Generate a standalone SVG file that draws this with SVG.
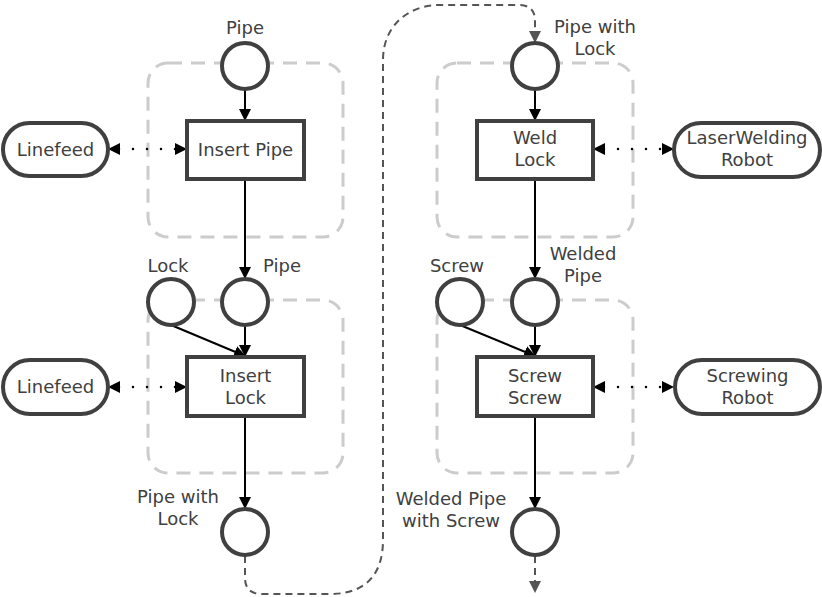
<svg xmlns="http://www.w3.org/2000/svg" width="822" height="597" viewBox="0 0 822 597">
<style>
text{font-family:"DejaVu Sans",Verdana,sans-serif;font-size:18px;fill:#404040;text-anchor:middle}
.grp{fill:none;stroke:#cccccc;stroke-width:3;stroke-dasharray:14 9}
.place{fill:#fff;stroke:#404040;stroke-width:4}
.trans{fill:#fff;stroke:#404040;stroke-width:4}
.res{fill:#fff;stroke:#404040;stroke-width:4}
.arc{fill:none;stroke:#000;stroke-width:2;marker-end:url(#ah)}
.dot{fill:none;stroke:#000;stroke-width:2.5;stroke-linecap:round;stroke-dasharray:0 14;stroke-dashoffset:-10;marker-start:url(#ahs);marker-end:url(#ah)}
.flow{fill:none;stroke:#555;stroke-width:2;stroke-dasharray:7 5}
</style>
<defs>
<marker id="ah" markerWidth="12" markerHeight="12" refX="11" refY="6" orient="auto" markerUnits="userSpaceOnUse"><path d="M0,0 L12,6 L0,12 Z" fill="#000"/></marker>
<marker id="ahs" markerWidth="12" markerHeight="12" refX="1" refY="6" orient="auto" markerUnits="userSpaceOnUse"><path d="M12,0 L0,6 L12,12 Z" fill="#000"/></marker>
<marker id="ahg" markerWidth="12" markerHeight="12" refX="11" refY="6" orient="auto" markerUnits="userSpaceOnUse"><path d="M0,0 L12,6 L0,12 Z" fill="#555"/></marker>
</defs>
<g id="groups">
<rect class="grp" x="148" y="63" width="195" height="174" rx="20"/>
<rect class="grp" x="148" y="300" width="195" height="173" rx="20"/>
<rect class="grp" x="437" y="63" width="196" height="174" rx="20"/>
<rect class="grp" x="437" y="300" width="196" height="173" rx="20"/>
</g>
<g id="connectors">
<path class="arc" d="M245,89 L245,120"/>
<path class="arc" d="M245,179 L245,278"/>
<path class="arc" d="M171,325 L245,356"/>
<path class="arc" d="M245,325 L245,356"/>
<path class="arc" d="M245,416 L245,508"/>
<path class="dot" d="M109,149 L186,149"/>
<path class="dot" d="M109,387 L186,387"/>
<path class="arc" d="M535,89 L535,120"/>
<path class="arc" d="M535,179 L535,278"/>
<path class="arc" d="M460,325 L535,356"/>
<path class="arc" d="M535,325 L535,356"/>
<path class="arc" d="M535,416 L535,508"/>
<path class="dot" d="M594,149 L673,149"/>
<path class="dot" d="M594,387 L673,387"/>
<path class="flow" d="M245,556 L245,578 Q245,594 262,594 L330,594 C368,594 383,572 383,540 L383,60 C383,26 408,5 440,5 L518,5 Q535,5 535,20 L535,42" marker-end="url(#ahg)"/>
<path class="flow" d="M535,556 L535,592" marker-end="url(#ahg)"/>
</g>
<g id="p-pipe1"><circle class="place" cx="245" cy="66" r="23"/><text x="245" y="34">Pipe</text></g>
<g id="t-insert-pipe"><rect class="trans" x="187" y="121" width="117" height="58"/><text x="245.5" y="156">Insert Pipe</text></g>
<g id="r-linefeed1"><rect class="res" x="3" y="123" width="105" height="53" rx="26.5"/><text x="55.5" y="156">Linefeed</text></g>
<g id="p-lock"><circle class="place" cx="171" cy="302" r="23"/><text x="168" y="272">Lock</text></g>
<g id="p-pipe2"><circle class="place" cx="245" cy="302" r="23"/><text x="282" y="272">Pipe</text></g>
<g id="t-insert-lock"><rect class="trans" x="187" y="357" width="117" height="59"/><text x="245.5" y="382">Insert</text><text x="245.5" y="404">Lock</text></g>
<g id="r-linefeed2"><rect class="res" x="3" y="360" width="105" height="54" rx="27"/><text x="55.5" y="393">Linefeed</text></g>
<g id="p-pipe-lock1"><circle class="place" cx="245" cy="532" r="23"/><text x="178" y="503">Pipe with</text><text x="178" y="525">Lock</text></g>
<g id="p-pipe-lock2"><circle class="place" cx="535" cy="66" r="23"/><text x="595" y="33">Pipe with</text><text x="595" y="55">Lock</text></g>
<g id="t-weld-lock"><rect class="trans" x="477" y="121" width="116" height="58"/><text x="535" y="144">Weld</text><text x="535" y="166">Lock</text></g>
<g id="r-laser"><rect class="res" x="674" y="123" width="146" height="54" rx="27"/><text x="747" y="144" textLength="121" lengthAdjust="spacingAndGlyphs">LaserWelding</text><text x="747" y="166">Robot</text></g>
<g id="p-screw"><circle class="place" cx="460" cy="302" r="23"/><text x="457" y="272">Screw</text></g>
<g id="p-welded-pipe"><circle class="place" cx="535" cy="302" r="23"/><text x="583" y="260">Welded</text><text x="583" y="282">Pipe</text></g>
<g id="t-screw-screw"><rect class="trans" x="477" y="357" width="116" height="59"/><text x="535" y="382">Screw</text><text x="535" y="404">Screw</text></g>
<g id="r-screwing"><rect class="res" x="675" y="360" width="145" height="54" rx="27"/><text x="747.5" y="382">Screwing</text><text x="747.5" y="404">Robot</text></g>
<g id="p-welded-screw"><circle class="place" cx="535" cy="532" r="23"/><text x="451" y="505">Welded Pipe</text><text x="451" y="527">with Screw</text></g>
</svg>
